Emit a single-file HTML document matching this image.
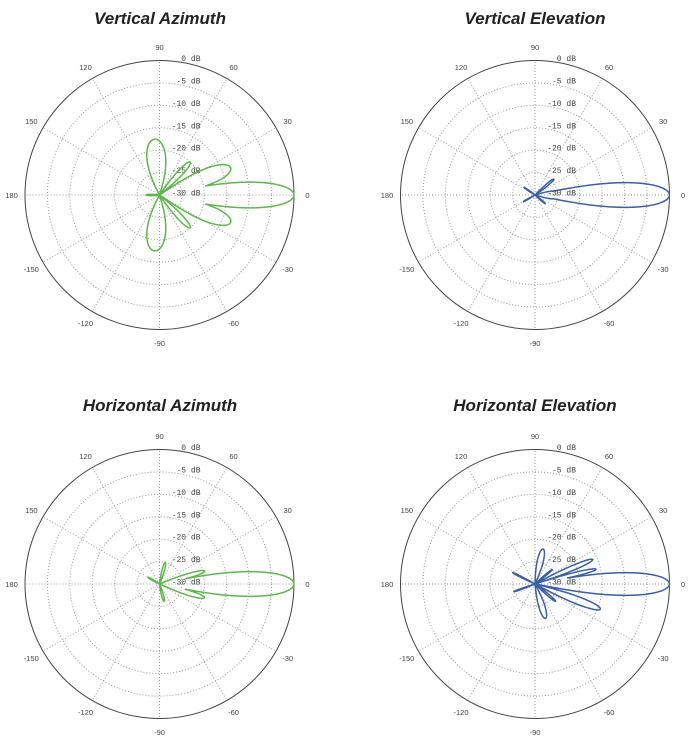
<!DOCTYPE html>
<html><head><meta charset="utf-8">
<style>
html,body{margin:0;padding:0;background:#fff;}
body{width:691px;height:748px;overflow:hidden;}
</style></head>
<body>
<svg id="s" width="691" height="748" xmlns="http://www.w3.org/2000/svg">
<text x="160" y="24" text-anchor="middle" font-family="Liberation Sans, sans-serif" font-size="17" font-weight="bold" font-style="italic" fill="#222">Vertical Azimuth</text>
<text x="535" y="24" text-anchor="middle" font-family="Liberation Sans, sans-serif" font-size="17" font-weight="bold" font-style="italic" fill="#222">Vertical Elevation</text>
<text x="160" y="411" text-anchor="middle" font-family="Liberation Sans, sans-serif" font-size="17" font-weight="bold" font-style="italic" fill="#222">Horizontal Azimuth</text>
<text x="535" y="411" text-anchor="middle" font-family="Liberation Sans, sans-serif" font-size="17" font-weight="bold" font-style="italic" fill="#222">Horizontal Elevation</text>
</svg>
<script>
var S=document.getElementById('s'),NS='http://www.w3.org/2000/svg';
function el(t,a,txt){var e=document.createElementNS(NS,t);for(var k in a)e.setAttribute(k,a[k]);if(txt)e.textContent=txt;S.appendChild(e);return e;}
function plot(cx,cy,color,lobes){
 var R=134.5;
 for(var i=1;i<=5;i++){el('circle',{cx:cx,cy:cy,r:R*(1-i/6),fill:'none',stroke:'#999','stroke-width':1,'stroke-dasharray':'1,2'});}
 for(var a=0;a<360;a+=30){var t=a*Math.PI/180;el('line',{x1:cx,y1:cy,x2:cx+R*Math.cos(t),y2:cy-R*Math.sin(t),stroke:'#999','stroke-width':1,'stroke-dasharray':'1,2'});}
 el('circle',{cx:cx,cy:cy,r:R,fill:'none',stroke:'#444','stroke-width':1});
 var labs=[0,30,60,90,120,150,180,-150,-120,-90,-60,-30];
 labs.forEach(function(a){var t=a*Math.PI/180;el('text',{x:cx+148*Math.cos(t),y:cy-148*Math.sin(t)+3,'text-anchor':'middle','font-family':'Liberation Sans, sans-serif','font-size':'7.5',fill:'#444'},String(a));});
 for(var i=0;i<=6;i++){el('text',{x:cx+41,y:cy-R*(1-i/6)+0.5,'text-anchor':'end','font-family':'Liberation Mono, monospace','font-size':'8',fill:'#444'},(i==0?'0':'-'+(5*i))+' dB');}
 var d='';
 for(var th=-180;th<=180;th+=0.25){
  var r=0;
  lobes.forEach(function(L){var dd=th-L[0];dd=((dd+540)%360)-180;if(Math.abs(dd)<L[2]){var rp=R*(1+L[1]/30);var v=rp*Math.pow(Math.cos(Math.PI/2*dd/L[2]),L[3]);if(v>r)r=v;}});
  var t=th*Math.PI/180;
  d+=(d?'L':'M')+(cx+r*Math.cos(t)).toFixed(2)+','+(cy-r*Math.sin(t)).toFixed(2);
 }
 el('path',{d:d+'Z',fill:'none',stroke:color,'stroke-width':1.5,'stroke-linejoin':'round'});
}
var G='#5cb84a',B='#3a5fa6';
plot(159.5,195,G,[[0,0,12.5,0.6],[21,-13,13,0.5],[47,-20,8,0.6],[95,-17.5,22,0.6],[-21,-13,13,0.5],[-47,-20,8,0.6],[-95,-17.5,22,0.6],[180,-27,8,1]]);
plot(535,195,B,[[0,0,12,0.6],[12,-26,5,0.8],[40,-24.5,6,0.8],[-12,-26,5,0.8],[-40,-27,5,0.8],[145,-27,4,0.8],[-150,-27,4,0.8]]);
plot(159.5,584,G,[[0,0,12,0.6],[16,-19.5,6,0.6],[-17,-19.5,7,0.6],[75,-25,8,0.8],[-75,-26,8,0.8],[150,-27,6,0.8]]);
plot(535,584,B,[[0,0,11,0.6],[13.6,-16,4,0.6],[23,-16,5,0.6],[-21,-14.4,7,0.6],[-40,-24,5,0.8],[77,-22,11,0.6],[-73,-22,11,0.6],[153,-24.4,3,0.8],[-160,-25,3,0.8],[40,-25,4,0.8]]);
</script>
</body></html>
